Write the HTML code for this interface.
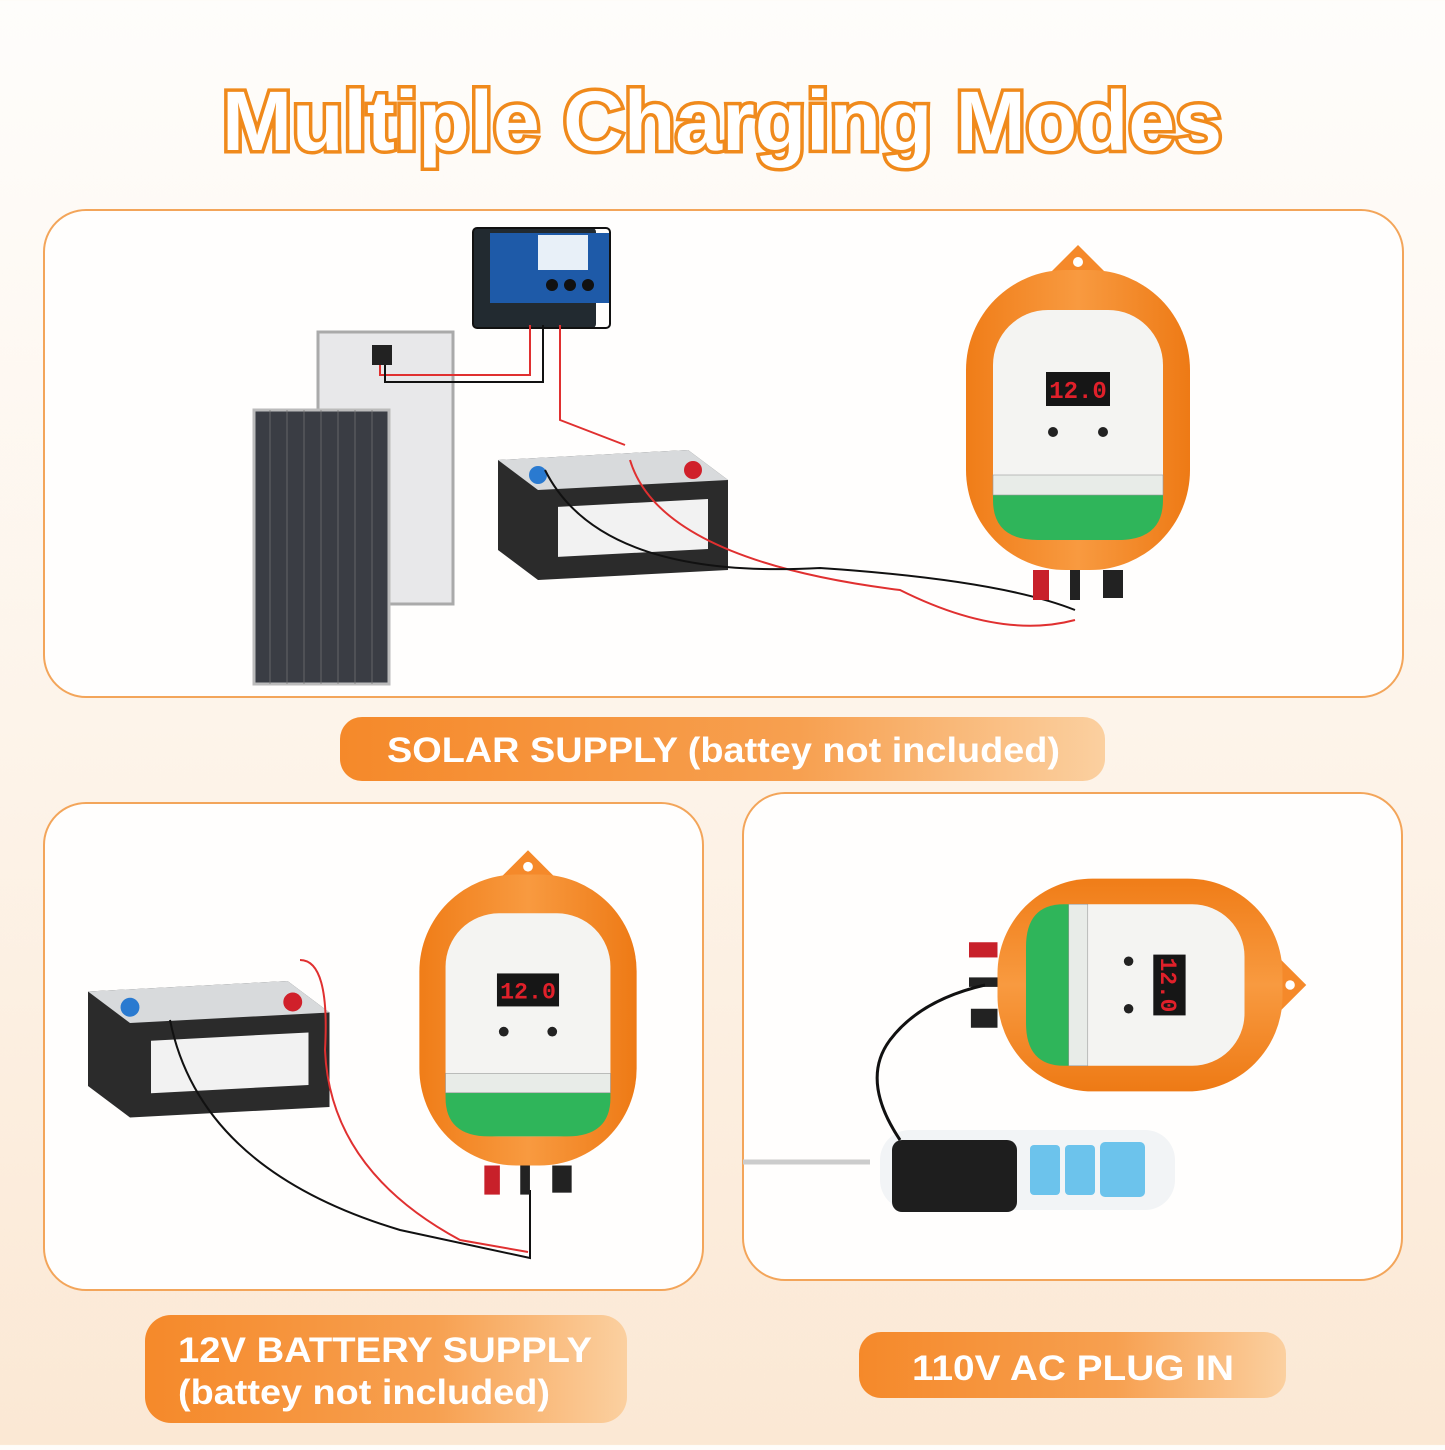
<!DOCTYPE html>
<html><head><meta charset="utf-8"><style>
html,body{margin:0;padding:0}
body{width:1445px;height:1445px;overflow:hidden;background:linear-gradient(#fefdfb 0%,#fdf3e8 55%,#fbe8d4 100%);font-family:"Liberation Sans",sans-serif}
</style></head><body>
<svg width="1445" height="1445" viewBox="0 0 1445 1445" xmlns="http://www.w3.org/2000/svg">
<defs>
<linearGradient id="pill" x1="0" x2="1"><stop offset="0" stop-color="#f5892a"/><stop offset="0.6" stop-color="#f7a050"/><stop offset="1" stop-color="#fbd0a0"/></linearGradient>
<linearGradient id="body" x1="0" x2="1"><stop offset="0" stop-color="#f07d18"/><stop offset="0.5" stop-color="#f89a40"/><stop offset="1" stop-color="#ee7a15"/></linearGradient>
<g id="dev">
 <path d="M-30,-145 L0,-175 L30,-145 Z" fill="#f5892a"/>
 <circle cx="0" cy="-158" r="5" fill="#fff"/>
 <rect x="-112" y="-150" width="224" height="300" rx="100" fill="url(#body)"/>
 <rect x="-85" y="-110" width="170" height="230" rx="55" fill="#f4f4f2"/>
 <path d="M-85,75 H85 V80 Q85,120 40,120 H-40 Q-85,120 -85,80 Z" fill="#2fb55a"/>
 <rect x="-85" y="55" width="170" height="20" fill="#e8ece8" stroke="#999" stroke-width="0.6"/>
 <rect x="-32" y="-48" width="64" height="34" fill="#161616"/>
 <text x="0" y="-22" font-size="24" fill="#e0202a" text-anchor="middle" font-family="Liberation Mono" font-weight="bold">12.0</text>
 <circle cx="-25" cy="12" r="5" fill="#222"/><circle cx="25" cy="12" r="5" fill="#222"/>
 <rect x="-45" y="150" width="16" height="30" fill="#c8202a"/>
 <rect x="-8" y="150" width="10" height="30" fill="#222"/>
 <rect x="25" y="150" width="20" height="28" fill="#222"/>
</g>
<g id="bat">
 <path d="M0,30 L190,20 L230,50 L230,140 L40,150 L0,120 Z" fill="#2b2b2b"/>
 <path d="M0,30 L190,20 L230,50 L40,60 Z" fill="#d8dadc"/>
 <rect x="60" y="80" width="150" height="50" fill="#f2f2f2" transform="skewY(-3)"/>
 <circle cx="40" cy="45" r="9" fill="#2a7ad0"/><circle cx="195" cy="40" r="9" fill="#d0202a"/>
</g>
</defs>

<text x="722" y="150" text-anchor="middle" font-size="84" font-weight="bold" textLength="1000" lengthAdjust="spacingAndGlyphs" fill="#fff" stroke="#f08a1c" stroke-width="7" paint-order="stroke" font-family="Liberation Sans">Multiple Charging Modes</text>

<rect x="44" y="210" width="1359" height="487" rx="42" fill="#fffefd" stroke="#f3a55a" stroke-width="2"/>
<rect x="44" y="803" width="659" height="487" rx="42" fill="#fffefd" stroke="#f3a55a" stroke-width="2"/>
<rect x="743" y="793" width="659" height="487" rx="42" fill="#fffefd" stroke="#f3a55a" stroke-width="2"/>

<rect x="340" y="717" width="765" height="64" rx="22" fill="url(#pill)"/>
<text x="387" y="762" font-size="35" font-weight="bold" fill="#fff" textLength="673" lengthAdjust="spacingAndGlyphs">SOLAR SUPPLY (battey not included)</text>
<rect x="145" y="1315" width="482" height="108" rx="26" fill="url(#pill)"/>
<text x="178" y="1362" font-size="35" font-weight="bold" fill="#fff" textLength="414" lengthAdjust="spacingAndGlyphs">12V BATTERY SUPPLY</text>
<text x="178" y="1404" font-size="35" font-weight="bold" fill="#fff" textLength="372" lengthAdjust="spacingAndGlyphs">(battey not included)</text>
<rect x="859" y="1332" width="427" height="66" rx="22" fill="url(#pill)"/>
<text x="912" y="1380" font-size="35" font-weight="bold" fill="#fff" textLength="322" lengthAdjust="spacingAndGlyphs">110V AC PLUG IN</text>

<!-- panel 1 -->
<rect x="318" y="332" width="135" height="272" fill="#e8e8ea" stroke="#aaa" stroke-width="3"/>
<rect x="254" y="410" width="135" height="274" fill="#3a3d44" stroke="#bbb" stroke-width="3"/>
<g stroke="#777" stroke-width="0.7">
<line x1="270" y1="410" x2="270" y2="684"/><line x1="287" y1="410" x2="287" y2="684"/><line x1="304" y1="410" x2="304" y2="684"/><line x1="321" y1="410" x2="321" y2="684"/><line x1="338" y1="410" x2="338" y2="684"/><line x1="355" y1="410" x2="355" y2="684"/><line x1="372" y1="410" x2="372" y2="684"/>
</g>
<rect x="473" y="228" width="123" height="100" rx="4" fill="#222a30"/>
<rect x="490" y="233" width="120" height="70" fill="#1e5aa8"/>
<rect x="538" y="235" width="50" height="35" fill="#e8f0f8"/>
<circle cx="552" cy="285" r="6" fill="#111"/><circle cx="570" cy="285" r="6" fill="#111"/><circle cx="588" cy="285" r="6" fill="#111"/>
<rect x="473" y="228" width="137" height="100" rx="4" fill="none" stroke="#111" stroke-width="2"/>
<path d="M380,365 V375 H530 V325" fill="none" stroke="#e03030" stroke-width="2"/>
<path d="M385,360 V382 H543 V325" fill="none" stroke="#111" stroke-width="2"/>
<rect x="372" y="345" width="20" height="20" fill="#222"/>
<use href="#bat" transform="translate(498,430)"/>
<path d="M560,325 V420 L625,445" fill="none" stroke="#e03030" stroke-width="2"/>
<path d="M630,460 Q660,560 900,590 Q1000,640 1075,620" fill="none" stroke="#e03030" stroke-width="2"/>
<path d="M545,470 Q600,580 820,568 Q1000,580 1075,610" fill="none" stroke="#111" stroke-width="2"/>
<use href="#dev" transform="translate(1078,420)"/>

<!-- panel 2 -->
<use href="#bat" transform="translate(88,960) scale(1.05)"/>
<path d="M300,960 Q330,960 325,1050 Q330,1170 460,1240 L528,1252" fill="none" stroke="#e03030" stroke-width="2"/>
<path d="M170,1020 Q200,1170 400,1230 L530,1258 V1190" fill="none" stroke="#111" stroke-width="2"/>
<use href="#dev" transform="translate(528,1020) scale(0.97)"/>

<!-- panel 3 -->
<g transform="translate(1140,985) rotate(90) scale(0.95)"><use href="#dev"/></g>
<path d="M743,1162 H870" stroke="#ccc" stroke-width="5"/>
<rect x="880" y="1130" width="295" height="80" rx="30" fill="#f2f4f6"/>
<rect x="1030" y="1145" width="30" height="50" rx="4" fill="#6cc3ec"/><rect x="1065" y="1145" width="30" height="50" rx="4" fill="#6cc3ec"/><rect x="1100" y="1142" width="45" height="55" rx="5" fill="#6cc3ec"/>
<rect x="892" y="1140" width="125" height="72" rx="10" fill="#1e1e1e"/>
<path d="M900,1140 Q860,1080 890,1040 Q920,1000 985,985" fill="none" stroke="#111" stroke-width="3"/>
</svg>
</body></html>
